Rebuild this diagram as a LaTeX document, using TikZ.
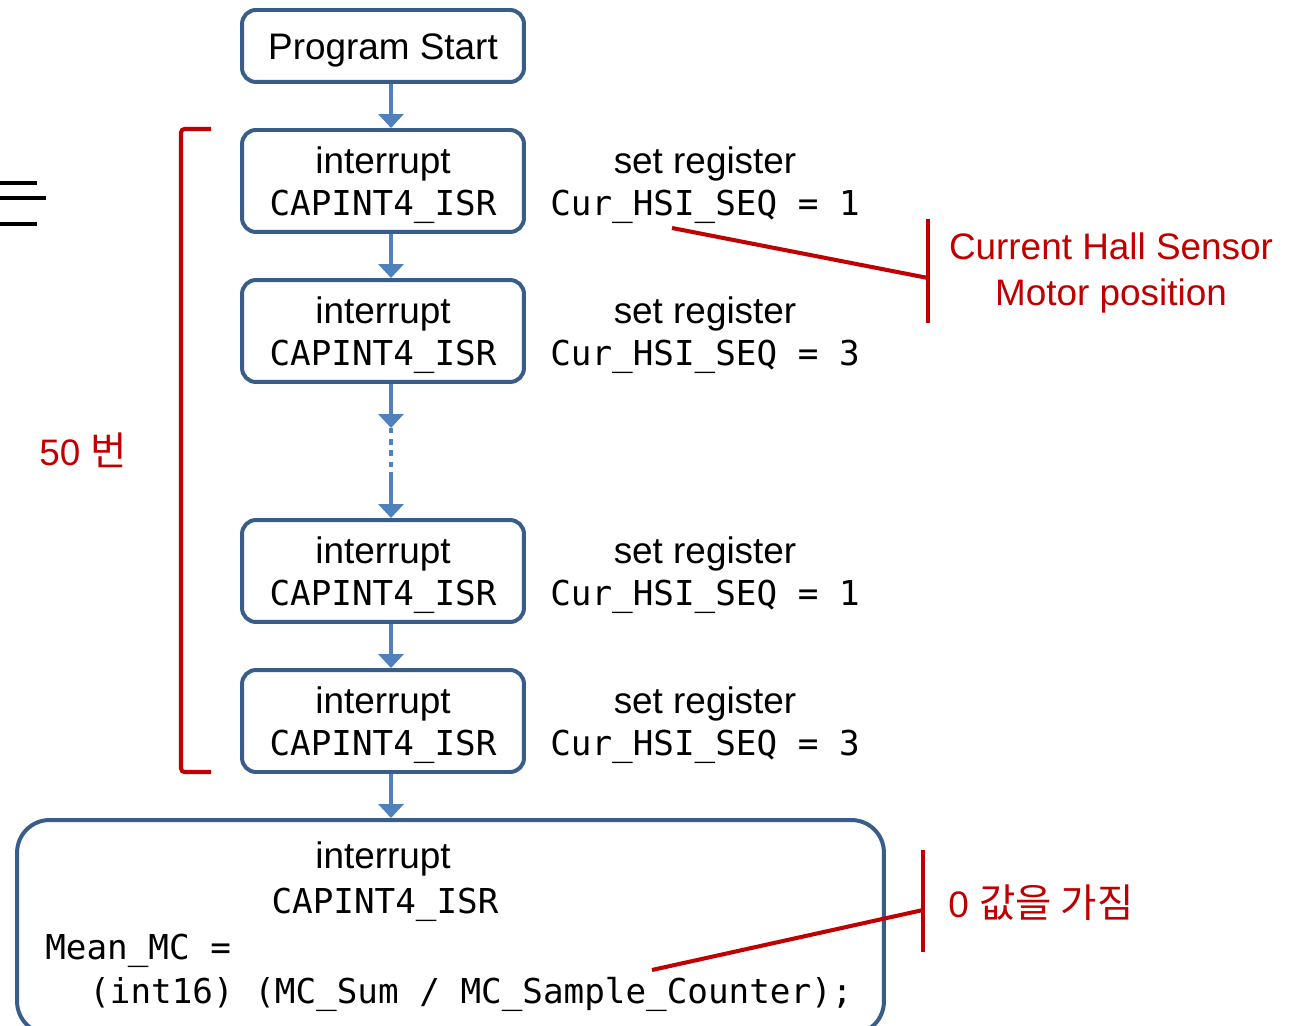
\documentclass[tikz,border=0pt]{standalone}
\usepackage{fontspec}
\setmainfont{Liberation Sans}
\newfontfamily\codefont{DejaVu Sans Mono}
\newfontfamily\krfont{Noto Sans CJK KR}
\usetikzlibrary{arrows.meta}
\definecolor{boxline}{RGB}{56,93,138}
\definecolor{flowblue}{RGB}{79,129,189}
\definecolor{notered}{RGB}{192,0,0}
\newcommand{\txt}{\fontsize{21}{24}\selectfont}
\newcommand{\code}{\codefont\fontsize{19.5}{24}\selectfont}
\newcommand{\kr}{\krfont\fontsize{22.5}{24}\selectfont}
\newcommand{\topstrut}{\rule{0pt}{19.5pt}}

\begin{document}
\begin{tikzpicture}[x=0.02cm, y=-0.02cm,
	box/.style={draw=boxline, line width=2.27pt, rounded corners=0.28cm, fill=white,
		minimum width=5.64cm, minimum height=2.04cm, align=center, font=\txt, inner sep=0pt},
	flow/.style={draw=flowblue, line width=2.8pt, -{Triangle[width=0.5cm, length=0.28cm]}},
	note/.style={draw=notered, line width=2.3pt},
	notetext/.style={text=notered, font=\txt, inner sep=0pt}]
	\useasboundingbox (0,0) rectangle (1290,1026);

	% nodes
	\node[box, minimum height=1.44cm] (start) at (383,46) {\topstrut Program Start};
	\node[box] (isr1) at (383,181) {\topstrut interrupt\\\code CAPINT4\_ISR};
	\node[box] (isr2) at (383,331) {\topstrut interrupt\\\code CAPINT4\_ISR};
	\node[box] (isr3) at (383,571) {\topstrut interrupt\\\code CAPINT4\_ISR};
	\node[box] (isr4) at (383,721) {\topstrut interrupt\\\code CAPINT4\_ISR};
	\node[box, minimum width=17.34cm, minimum height=4.28cm, rounded corners=0.65cm] (final) at (450.5,927) {};
	\node[font=\txt, anchor=base, inner sep=0pt] (fint) at (383,868) {interrupt};
	\node[font=\code, anchor=base, inner sep=0pt] (fisr) at (385,913) {CAPINT4\_ISR};
	\node[font=\code, anchor=base west, inner sep=0pt] (fmean) at (45,959) {Mean\_MC =};
	\node[font=\code, anchor=base west, inner sep=0pt] (fexpr) at (89,1003) {(int16) (MC\_Sum / MC\_Sample\_Counter);};

	% register values
	\node[font=\txt, align=center, inner sep=0pt] (reg1) at (705,181) {\topstrut set register\\\code Cur\_HSI\_SEQ = 1};
	\node[font=\txt, align=center, inner sep=0pt] (reg2) at (705,331) {\topstrut set register\\\code Cur\_HSI\_SEQ = 3};
	\node[font=\txt, align=center, inner sep=0pt] (reg3) at (705,571) {\topstrut set register\\\code Cur\_HSI\_SEQ = 1};
	\node[font=\txt, align=center, inner sep=0pt] (reg4) at (705,721) {\topstrut set register\\\code Cur\_HSI\_SEQ = 3};

	% arrows
	\coordinate (ax) at (391,0);
	\coordinate (gap1) at (391,428);
	\coordinate (gap2) at (391,472);
	\draw[flow] (start.south -| ax) -- (isr1.north -| ax);
	\draw[flow] (isr1.south -| ax) -- (isr2.north -| ax);
	\draw[flow] (isr2.south -| ax) -- (gap1);
	\draw[flowblue, line width=2.8pt, dash pattern=on 3pt off 3.4pt] (gap1) -- (gap2);
	\draw[flow] (gap2) -- (isr3.north -| ax);
	\draw[flow] (isr3.south -| ax) -- (isr4.north -| ax);
	\draw[flow] (isr4.south -| ax) -- (final.north -| ax);

	% left marks
	\draw[line width=2.8pt] (0,183) -- (37,183);
	\draw[line width=2.8pt] (0,198) -- (46,198);
	\draw[line width=2.8pt] (0,224) -- (37,224);

	% red notes
	\draw[note, rounded corners=2pt] (211,129) -- (181,129) -- (181,772) -- (211,772);
	\node[notetext, anchor=base west] (count) at (39,466) {50 {\kr 번}};

	\coordinate (seqpt) at (672,228);
	\coordinate (hallpt) at (928,278);
	\draw[note] (seqpt) -- (hallpt);
	\draw[note] (928,219) -- (928,323);
	\node[notetext, align=center, font=\fontsize{21}{26}\selectfont] (hall) at (1111,273) {Current Hall Sensor\\Motor position};

	\coordinate (cntpt) at (652,970);
	\coordinate (zeropt) at (923,910);
	\draw[note] (cntpt) -- (zeropt);
	\draw[note] (923,850) -- (923,952);
	\node[notetext, anchor=base west] (zero) at (948,917) {0 {\kr 값을 가짐}};
\end{tikzpicture}
\end{document}
